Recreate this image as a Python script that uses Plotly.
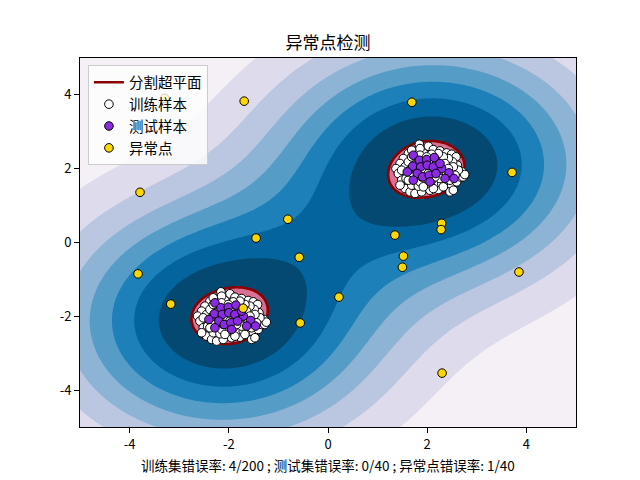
import numpy as np
import plotly.graph_objects as go

# ---------------- data ----------------
cluster_centers_x = [2.0, -2.0]
cluster_centers_y = [2.0, -2.0]

# training-sample offsets (same pattern in both clusters)
train_dx = [-0.159, 0.023, 0.124, 0.258, 0.392, 0.493, 0.581, -0.380, -0.481, -0.548,
            -0.629, -0.582, -0.515, -0.448, -0.347, -0.246, -0.112, 0.056, 0.224, 0.392,
            0.493, 0.594, 0.661, 0.708, 0.608, 0.513, 0.426, 0.325, -0.078, -0.212,
            -0.448, -0.427, -0.313, -0.011, 0.157, 0.292, 0.460, 0.722, 0.756, -0.313,
            -0.145, 0.224, -0.515, -0.548, -0.179, 0.325, 0.527, 0.628, -0.212, -0.078,
            0.056, 0.191, 0.359, -0.347, -0.212, -0.078, 0.056, 0.191, 0.392, 0.527,
            -0.280, -0.145, 0.090, 0.258, 0.460, -0.380, -0.145, 0.090, 0.023, 0.157,
            -0.313, 0.561, -0.078, 0.124, 0.258, 0.426, -0.011, -0.246, -0.112, -0.380]
train_dy = [0.663, 0.609, 0.518, 0.482, 0.428, 0.392, 0.320, 0.410, 0.275, 0.140,
            0.005, -0.131, -0.311, -0.537, -0.627, -0.672, -0.627, -0.582, -0.564, -0.491,
            -0.446, -0.356, -0.221, -0.086, 0.095, 0.185, 0.275, 0.320, 0.428, 0.482,
            0.050, -0.266, -0.446, -0.401, -0.401, -0.401, -0.627, -0.221, -0.158, 0.500,
            0.546, 0.410, -0.041, -0.446, -0.473, -0.491, -0.582, -0.041, 0.185, 0.185,
            0.185, 0.185, 0.140, -0.041, -0.041, -0.041, -0.041, -0.041, -0.131, 0.050,
            -0.221, -0.356, -0.311, -0.266, -0.311, 0.185, 0.365, 0.392, -0.131, -0.221,
            0.320, -0.176, -0.491, -0.537, 0.050, 0.005, 0.320, 0.095, -0.221, -0.311]

# test-sample offsets (same pattern in both clusters)
test_dx = [-0.280, -0.159, -0.010, 0.143, -0.292, -0.131, 0.002, 0.123, 0.292, 0.440,
           0.540, -0.200, -0.091, 0.042, 0.177, 0.359, -0.280, -0.401, 0.258, 0.056]
test_dy = [0.365, 0.230, 0.249, 0.303, 0.068, 0.049, 0.095, 0.049, 0.005, -0.114,
           -0.265, -0.130, -0.222, -0.176, -0.130, -0.265, -0.311, -0.087, 0.141, -0.357]

outlier_x = [-1.69, 1.69, -3.29, -3.79, 3.71, -0.81, -1.45, 1.35, 2.29, 2.28,
             -3.83, -0.58, 1.52, 1.50, 3.85, -3.17, 0.22, -0.56, 2.30, -1.71]
outlier_y = [3.83, 3.80, 3.91, 1.36, 1.90, 0.63, 0.12, 0.20, 0.52, 0.35,
             -0.85, -0.40, -0.37, -0.67, -0.80, -1.67, -1.48, -2.18, -3.54, -1.78]

# approximate one-class SVM surface: RBF kernels whose effective centres sit
# slightly outward so that each boundary stays centred on its cluster
kernel_gamma = 0.1
kernel_shift = 0.135
boundary_radius = 0.75
n_bands = 8
tick_vals = [-4, -2, 0, 2, 4]
tick_labels = ["-4", "-2", "0", "2", "4"]

band_colors = ["rgb(245,239,246)", "rgb(222,220,236)", "rgb(187,199,224)", "rgb(141,179,213)",
               "rgb(85,156,199)", "rgb(29,128,184)", "rgb(4,101,158)", "rgb(3,73,114)"]
inside_color = "rgb(219,112,147)"

title_text = "异常点检测"
xlabel_text = "训练集错误率: 4/200 ; 测试集错误率: 0/40 ; 异常点错误率: 1/40"
names = ["分割超平面", "训练样本", "测试样本", "异常点"]

# ---------------- decision surface ----------------
gx = np.linspace(-5, 5, 301)
gy = np.linspace(-5, 5, 301)
XX, YY = np.meshgrid(gx, gy)


def field(x, y):
    total = 0.0
    for cx, cy in zip(cluster_centers_x, cluster_centers_y):
        kx = cx + np.sign(cx) * kernel_shift
        ky = cy + np.sign(cy) * kernel_shift
        total = total + np.exp(-kernel_gamma * ((x - kx) ** 2 + (y - ky) ** 2))
    return total


rho = field(cluster_centers_x[0], cluster_centers_y[0] + boundary_radius)
Z = field(XX, YY) - rho
zmin = float(Z.min()) - 1e-9
step = -zmin / n_bands

all_colors = [band_colors[0]] + band_colors + [inside_color]
nb = len(all_colors)
colorscale = []
for j, c in enumerate(all_colors):
    lo = max(0.0, (j - 0.5) / (nb - 1))
    hi = min(1.0, (j + 0.5) / (nb - 1))
    colorscale.append([lo, c])
    colorscale.append([hi, c])

train_x = [cx + d for cx in cluster_centers_x for d in train_dx]
train_y = [cy + d for cy in cluster_centers_y for d in train_dy]
test_x = [cx + d for cx in cluster_centers_x for d in test_dx]
test_y = [cy + d for cy in cluster_centers_y for d in test_dy]

fig = go.Figure()
fig.add_trace(go.Contour(
    x=gx, y=gy, z=Z, autocontour=False,
    contours=dict(start=zmin, end=0, size=step, coloring="fill", showlines=False),
    colorscale=colorscale, showscale=False, line=dict(width=0),
    hoverinfo="skip", showlegend=False))
fig.add_trace(go.Contour(
    x=gx, y=gy, z=Z, autocontour=False,
    contours=dict(start=0, end=0, size=1, coloring="none"),
    line=dict(color="darkred", width=2.6), showscale=False,
    hoverinfo="skip", showlegend=False))

fig.add_trace(go.Scatter(x=[None], y=[None], mode="lines", name=names[0],
                         line=dict(color="darkred", width=2.6)))
mk = dict(size=8.6, line=dict(color="black", width=1))
fig.add_trace(go.Scatter(x=train_x, y=train_y, mode="markers", name=names[1],
                         marker=dict(color="white", **mk)))
fig.add_trace(go.Scatter(x=test_x, y=test_y, mode="markers", name=names[2],
                         marker=dict(color="blueviolet", **mk)))
fig.add_trace(go.Scatter(x=outlier_x, y=outlier_y, mode="markers", name=names[3],
                         marker=dict(color="gold", **mk)))

axis_common = dict(range=[-5, 5], tickvals=tick_vals, ticktext=tick_labels,
                   showgrid=False, zeroline=False, showline=True, mirror=True,
                   linecolor="black", linewidth=1, ticks="outside", ticklen=5,
                   tickcolor="black", tickfont=dict(size=13))

fig.update_layout(
    width=640, height=480,
    margin=dict(l=80, r=64, t=57.6, b=52.8),
    plot_bgcolor="white", paper_bgcolor="white",
    font=dict(family="Noto Sans CJK SC, sans-serif", size=13, color="black"),
    xaxis=axis_common, yaxis=axis_common,
    title=dict(text=title_text, x=0.5, xref="paper", xanchor="center",
               y=1 - 43 / 480, yref="container", yanchor="middle",
               font=dict(size=17)),
    legend=dict(x=0.016, y=0.98, xanchor="left", yanchor="top",
                bgcolor="rgba(255,255,255,0.8)", bordercolor="rgb(204,204,204)",
                borderwidth=1, font=dict(size=14.5), itemwidth=30),
    annotations=[dict(text=xlabel_text, x=0.5, y=-(465 - 427.2) / 369.6,
                      xref="paper", yref="paper", xanchor="center", yanchor="middle",
                      showarrow=False, font=dict(size=13.5))],
)

fig.write_html("out.html")
